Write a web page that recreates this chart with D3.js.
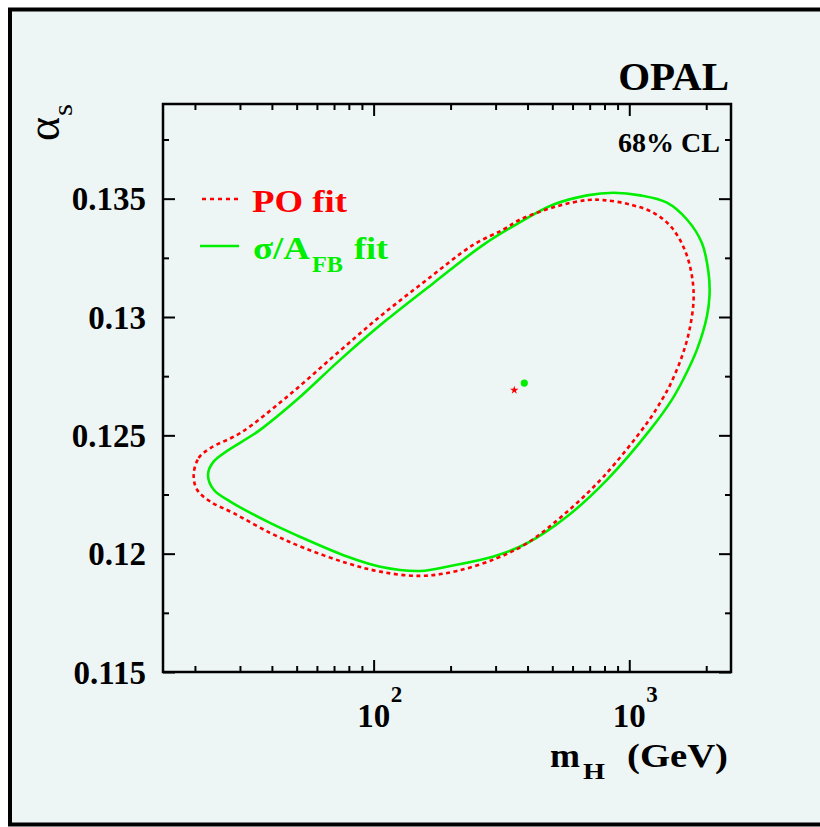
<!DOCTYPE html>
<html>
<head>
<meta charset="utf-8">
<script src="https://cdn.jsdelivr.net/npm/d3@7"></script>
<style>
  html, body { margin: 0; padding: 0; background: #ffffff; }
  svg text { font-family: "Liberation Serif", "Times New Roman", Times, serif; }
</style>
</head>
<body>
<div id="chart"></div>
<script>
// alpha_s vs m_H, 68% CL contours (OPAL)

// sigma/A_FB fit contour (green, solid)
const greenMH = [22.5, 23.7, 36.1, 50.2, 74.1, 112.8, 171.7, 269.3, 374.7, 505.8, 683.3,
    868.2, 1104, 1404, 1681, 1924, 2042, 2061, 2013, 1840, 1631, 1469, 1208, 818, 570.7, 398.0,
    294.6, 199.5, 152.2, 106.2, 78.7, 50.2, 39.5, 27.5, 23.7];
const greenAlpha = [0.12333, 0.12390, 0.12524, 0.12651, 0.12820, 0.12989, 0.13144,
    0.13306, 0.13401, 0.13475, 0.13514, 0.13525, 0.13514, 0.13483, 0.13412, 0.13313, 0.13187,
    0.13095, 0.13003, 0.12862, 0.12739, 0.12651, 0.12524, 0.12312, 0.12157, 0.12044, 0.11988,
    0.11948, 0.11927, 0.11945, 0.11988, 0.12077, 0.12129, 0.12220, 0.12270];

// PO fit contour (red, dotted)
const redMH = [19.77, 20.68, 22.98, 30.11, 45.3, 69.77, 106.2, 161.8, 246.1, 322.4, 374.7,
    521.5, 683.3, 793.4, 1009, 1245, 1469, 1656, 1759, 1785, 1721, 1608, 1446, 1343, 1173, 793.4,
    553.5, 398.0, 303.8, 211.9, 152.2, 106.2, 78.7, 53.2, 39.5, 28.35, 22.98, 20.39];
const redAlpha = [0.12333, 0.12404, 0.12446, 0.12510, 0.12658, 0.12834, 0.13003, 0.13158,
    0.13306, 0.13370, 0.13412, 0.13468, 0.13494, 0.13494, 0.13475, 0.13440, 0.13377, 0.13278,
    0.13172, 0.13074, 0.12947, 0.12834, 0.12714, 0.12651, 0.12552, 0.12326, 0.12164, 0.12044,
    0.11981, 0.11927, 0.11906, 0.11924, 0.11960, 0.12025, 0.12087, 0.12171, 0.12220, 0.12270];

// best fit points
const poBest = [355.0, 0.12691];
const sigmaBest = [388.5, 0.12721];

// axis ticks
const xMajor = [100, 1000];
const xExponents = ['2', '3'];
const xMinor = [20, 30, 40, 50, 60, 70, 80, 90, 200, 300, 400, 500, 600, 700, 800, 900, 2000];
const yMajor = [0.115, 0.12, 0.125, 0.13, 0.135];
const yLabels = ['0.115', '0.12', '0.125', '0.13', '0.135'];
const yMinor = [0.1175, 0.1225, 0.1275, 0.1325, 0.1375];

const W = 820, H = 827;
const plot = { left: 163, top: 104, right: 731, bottom: 672 };
const GREEN = '#00ee00';
const RED = '#ff0000';

const svg = d3.select('#chart').append('svg')
    .attr('width', W)
    .attr('height', H);

// canvas frame (right edge lies outside the picture)
svg.append('rect')
    .attr('x', 10).attr('y', 9.5)
    .attr('width', 840).attr('height', 815)
    .attr('fill', '#eef6f5')
    .attr('stroke', '#000')
    .attr('stroke-width', 4);

const x = d3.scaleLog().domain([15, 2500]).range([plot.left, plot.right]);
const y = d3.scaleLinear().domain([0.115, 0.139]).range([plot.bottom, plot.top]);

// ticks (inward, all four sides)
function tickAxis(axis, tx, ty) {
    const g = svg.append('g').attr('transform', `translate(${tx},${ty})`).call(axis);
    g.select('.domain').remove();
    g.selectAll('.tick line').attr('stroke', '#000').attr('stroke-width', 2);
    return g;
}

tickAxis(d3.axisBottom(x).tickValues(xMajor).tickSize(-12).tickFormat(''), 0, plot.bottom);
tickAxis(d3.axisBottom(x).tickValues(xMinor).tickSize(-6).tickFormat(''), 0, plot.bottom);
tickAxis(d3.axisTop(x).tickValues(xMajor).tickSize(-12).tickFormat(''), 0, plot.top);
tickAxis(d3.axisTop(x).tickValues(xMinor).tickSize(-6).tickFormat(''), 0, plot.top);

const yAxisG = tickAxis(d3.axisLeft(y).tickValues(yMajor).tickSize(-12).tickPadding(17)
    .tickFormat((d, i) => yLabels[i]), plot.left, 0);
yAxisG.selectAll('.tick text')
    .attr('fill', '#000')
    .attr('font-size', 33)
    .attr('font-weight', 'bold')
    .attr('dy', '0.34em');
tickAxis(d3.axisLeft(y).tickValues(yMinor).tickSize(-6).tickFormat(''), plot.left, 0);
tickAxis(d3.axisRight(y).tickValues(yMajor).tickSize(-12).tickFormat(''), plot.right, 0);
tickAxis(d3.axisRight(y).tickValues(yMinor).tickSize(-6).tickFormat(''), plot.right, 0);

// plot box
svg.append('rect')
    .attr('x', plot.left).attr('y', plot.top)
    .attr('width', plot.right - plot.left)
    .attr('height', plot.bottom - plot.top)
    .attr('fill', 'none')
    .attr('stroke', '#000')
    .attr('stroke-width', 2.5);

// x tick labels 10^n
xMajor.forEach((v, i) => {
    svg.append('text')
        .attr('x', x(v)).attr('y', plot.bottom + 55)
        .attr('text-anchor', 'middle')
        .attr('font-size', 33).attr('font-weight', 'bold')
        .text('10');
    svg.append('text')
        .attr('x', x(v) + 17).attr('y', plot.bottom + 30)
        .attr('font-size', 23).attr('font-weight', 'bold')
        .text(xExponents[i]);
});

// text with a fixed drawn width (the original labels are wide)
function wideText(str, tx, ty, size, len, color) {
    return svg.append('text')
        .attr('x', tx).attr('y', ty)
        .attr('font-size', size).attr('font-weight', 'bold')
        .attr('fill', color || '#000')
        .attr('textLength', len)
        .attr('lengthAdjust', 'spacingAndGlyphs')
        .text(str);
}

// x axis title: m_H (GeV)
wideText('m', 550, 767, 33, 30);
wideText('H', 583, 779, 24, 22);
wideText('(GeV)', 627, 767, 33, 101);

// y axis title: alpha_s
svg.append('text')
    .attr('transform', 'translate(59,141) rotate(-90)')
    .attr('font-size', 46)
    .attr('textLength', 24)
    .attr('lengthAdjust', 'spacingAndGlyphs')
    .text('α');
svg.append('text')
    .attr('transform', 'translate(72,116) rotate(-90)')
    .attr('font-size', 28)
    .attr('textLength', 12)
    .attr('lengthAdjust', 'spacingAndGlyphs')
    .text('s');

// OPAL and CL labels
svg.append('text')
    .attr('x', 729).attr('y', 90)
    .attr('text-anchor', 'end')
    .attr('font-size', 41).attr('font-weight', 'bold')
    .text('OPAL');
svg.append('text')
    .attr('x', 720).attr('y', 152)
    .attr('text-anchor', 'end')
    .attr('font-size', 28).attr('font-weight', 'bold')
    .text('68% CL');

// contours
const contour = d3.line()
    .x(d => x(d[0]))
    .y(d => y(d[1]))
    .curve(d3.curveCatmullRomClosed.alpha(0.5));

const greenPts = greenMH.map((m, i) => [m, greenAlpha[i]]);
const redPts = redMH.map((m, i) => [m, redAlpha[i]]);

svg.append('path')
    .attr('d', contour(greenPts))
    .attr('fill', 'none')
    .attr('stroke', GREEN)
    .attr('stroke-width', 2.6);

svg.append('path')
    .attr('d', contour(redPts))
    .attr('fill', 'none')
    .attr('stroke', RED)
    .attr('stroke-width', 2.6)
    .attr('stroke-dasharray', '4 3.5');

// best fit markers
svg.append('path')
    .attr('d', d3.symbol(d3.symbolStar, 22)())
    .attr('transform', `translate(${x(poBest[0])},${y(poBest[1])})`)
    .attr('fill', RED);
svg.append('circle')
    .attr('cx', x(sigmaBest[0])).attr('cy', y(sigmaBest[1]))
    .attr('r', 3.6)
    .attr('fill', GREEN);

// legend
svg.append('line')
    .attr('x1', 202).attr('x2', 239).attr('y1', 199).attr('y2', 199)
    .attr('stroke', RED).attr('stroke-width', 2.6)
    .attr('stroke-dasharray', '4 4');
svg.append('line')
    .attr('x1', 200).attr('x2', 239).attr('y1', 246).attr('y2', 246)
    .attr('stroke', GREEN).attr('stroke-width', 2.6);

wideText('PO fit', 252, 212, 31, 95, RED);
wideText('σ/A', 253, 259, 32, 57, GREEN);
wideText('FB', 312, 272, 23, 31, GREEN);
wideText('fit', 354, 259, 32, 34, GREEN);
</script>
</body>
</html>
